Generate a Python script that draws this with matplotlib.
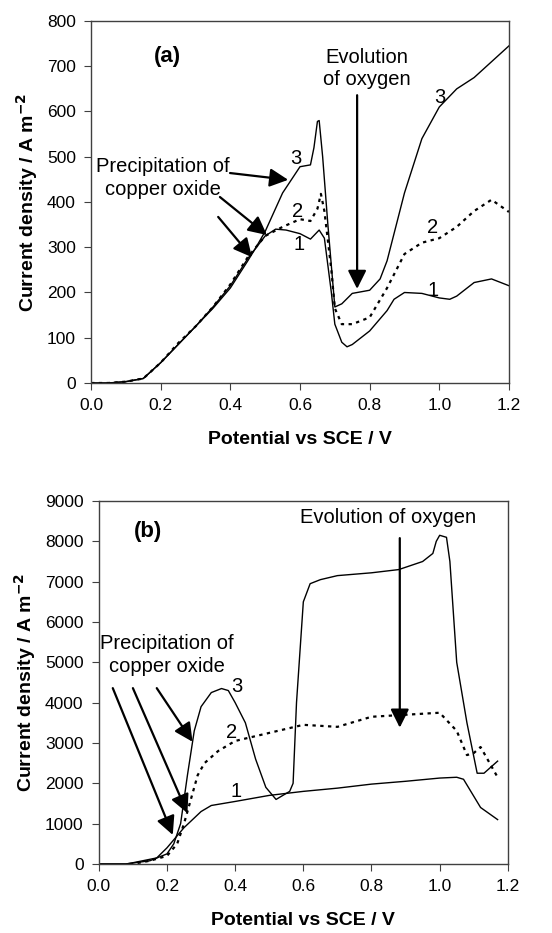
import matplotlib
matplotlib.use("Agg")
import matplotlib.pyplot as plt

plt.rcParams['font.family'] = ['Liberation Sans', 'DejaVu Sans']

# ---- panel (a) data ----
xa1 = [0.0, 0.05, 0.1, 0.15, 0.2, 0.25, 0.3, 0.35, 0.4, 0.45, 0.5, 0.53, 0.56, 0.6, 0.63, 0.655, 0.67,
       0.69, 0.7, 0.72, 0.735, 0.75, 0.8, 0.85, 0.87, 0.9, 0.95, 1.0, 1.03, 1.05, 1.1, 1.15, 1.2]
ya1 = [0, 0, 3, 10, 45, 85, 125, 168, 215, 275, 325, 340, 338, 330, 318, 338, 320,
       200, 130, 90, 80, 85, 115, 160, 185, 200, 198, 188, 185, 192, 222, 230, 215]

xa2 = [0.0, 0.05, 0.1, 0.15, 0.2, 0.25, 0.3, 0.35, 0.4, 0.45, 0.5, 0.55, 0.6, 0.63, 0.65, 0.66, 0.67,
       0.69, 0.7, 0.72, 0.75, 0.8, 0.85, 0.9, 0.95, 1.0, 1.05, 1.1, 1.15, 1.2]
ya2 = [0, 0, 3, 10, 45, 88, 125, 168, 218, 278, 325, 345, 362, 358, 385, 418, 380,
       250, 165, 130, 130, 145, 210, 285, 310, 320, 345, 380, 405, 378]

xa3 = [0.0, 0.05, 0.1, 0.15, 0.2, 0.25, 0.3, 0.35, 0.4, 0.45, 0.47, 0.5, 0.55, 0.6, 0.63, 0.64, 0.65,
       0.655, 0.665, 0.68, 0.7, 0.72, 0.75, 0.8, 0.83, 0.85, 0.9, 0.95, 1.0, 1.05, 1.1, 1.15, 1.2]
ya3 = [0, 0, 3, 10, 45, 85, 125, 165, 210, 270, 295, 335, 420, 478, 482, 520, 578,
       580, 500, 350, 168, 175, 198, 205, 230, 270, 420, 540, 610, 650, 675, 710, 745]

# ---- panel (b) data ----
xb1 = [0.0, 0.08, 0.1, 0.17, 0.2, 0.25, 0.3, 0.33, 0.4, 0.5, 0.6, 0.7, 0.8, 0.9, 1.0, 1.05, 1.07,
       1.12, 1.17]
yb1 = [0, 0, 30, 150, 400, 900, 1300, 1450, 1550, 1700, 1800, 1880, 1980, 2050, 2130, 2150, 2100,
       1400, 1100]

xb2 = [0.0, 0.08, 0.15, 0.2, 0.23, 0.25, 0.27, 0.29, 0.31, 0.35, 0.4, 0.5, 0.6, 0.7, 0.8, 0.9, 1.0,
       1.05, 1.08, 1.1, 1.12, 1.17]
yb2 = [-30, -30, 80, 200, 500, 1000, 1600, 2200, 2500, 2800, 3050, 3250, 3450, 3400, 3650, 3700, 3750,
       3300, 2700, 2750, 2900, 2150]

xb3 = [0.0, 0.08, 0.15, 0.2, 0.22, 0.24, 0.26, 0.28, 0.3, 0.33, 0.36, 0.38, 0.4, 0.43, 0.46, 0.49,
       0.52, 0.54, 0.56, 0.57, 0.58, 0.6, 0.62, 0.65, 0.7, 0.8, 0.88, 0.95, 0.98, 0.99, 1.0, 1.02,
       1.03, 1.05, 1.08, 1.11, 1.13, 1.17]
yb3 = [0, 0, 80, 250, 500, 1000, 2200, 3300, 3900, 4250, 4350, 4300, 4000, 3500, 2600, 1900,
       1600, 1700, 1800, 2000, 4000, 6500, 6950, 7050, 7150, 7220, 7300, 7500, 7700, 8000, 8150, 8100,
       7500, 5000, 3500, 2250, 2250, 2550]

xticks = [0.0, 0.2, 0.4, 0.6, 0.8, 1.0, 1.2]
xticklabels = ['0.0', '0.2', '0.4', '0.6', '0.8', '1.0', '1.2']

fig = plt.figure(figsize=(5.52, 9.33), dpi=100)
axa = fig.add_axes([0.165, 0.5895, 0.757, 0.388])
axb = fig.add_axes([0.179, 0.074, 0.741, 0.389])

arrow = dict(arrowstyle='-|>', mutation_scale=28, lw=1.6, color='black', shrinkA=0, shrinkB=0)
fs = 14.5

# (a)
axa.plot(xa1, ya1, color='black', lw=1)
axa.plot(xa2, ya2, color='black', lw=1.6, ls=(0, (1.5, 2)))
axa.plot(xa3, ya3, color='black', lw=1)
axa.set_xlim(0, 1.2)
axa.set_ylim(0, 800)
axa.set_yticks(range(0, 801, 100))
axa.text(0.22, 722, '(a)', fontsize=16, fontweight='bold', ha='center', va='center')
axa.text(0.589, 497, '3', fontsize=fs, ha='center', va='center')
axa.text(0.594, 380, '2', fontsize=fs, ha='center', va='center')
axa.text(0.597, 307, '1', fontsize=fs, ha='center', va='center')
axa.text(1.002, 632, '3', fontsize=fs, ha='center', va='center')
axa.text(0.98, 343, '2', fontsize=fs, ha='center', va='center')
axa.text(0.983, 205, '1', fontsize=fs, ha='center', va='center')
axa.text(0.205, 453, 'Precipitation of\ncopper oxide', fontsize=fs, ha='center', va='center',
         linespacing=1.25)
axa.annotate('', xy=(0.566, 449), xytext=(0.399, 464), arrowprops=arrow)
axa.annotate('', xy=(0.505, 327), xytext=(0.37, 411), arrowprops=arrow)
axa.annotate('', xy=(0.462, 278), xytext=(0.365, 367), arrowprops=arrow)
axa.text(0.793, 695, 'Evolution\nof oxygen', fontsize=fs, ha='center', va='center', linespacing=1.25)
axa.annotate('', xy=(0.764, 208), xytext=(0.764, 636), arrowprops=arrow)

# (b)
axb.plot(xb1, yb1, color='black', lw=1)
axb.plot(xb2, yb2, color='black', lw=1.6, ls=(0, (1.5, 2)))
axb.plot(xb3, yb3, color='black', lw=1)
axb.set_xlim(0, 1.2)
axb.set_ylim(0, 9000)
axb.set_yticks(range(0, 9001, 1000))
axb.text(0.144, 8232, '(b)', fontsize=16, fontweight='bold', ha='center', va='center')
axb.text(0.405, 4390, '3', fontsize=fs, ha='center', va='center')
axb.text(0.39, 3250, '2', fontsize=fs, ha='center', va='center')
axb.text(0.402, 1790, '1', fontsize=fs, ha='center', va='center')
axb.text(0.2, 5180, 'Precipitation of\ncopper oxide', fontsize=fs, ha='center', va='center',
         linespacing=1.25)
axb.annotate('', xy=(0.217, 720), xytext=(0.041, 4360), arrowprops=arrow)
axb.annotate('', xy=(0.26, 1260), xytext=(0.1, 4360), arrowprops=arrow)
axb.annotate('', xy=(0.275, 3030), xytext=(0.17, 4360), arrowprops=arrow)
axb.text(0.848, 8580, 'Evolution of oxygen', fontsize=fs, ha='center', va='center')
axb.annotate('', xy=(0.883, 3380), xytext=(0.883, 8080), arrowprops=arrow)

for ax in (axa, axb):
    ax.set_xticks(xticks)
    ax.set_xticklabels(xticklabels)
    ax.tick_params(direction='out', length=5, labelsize=12.5, color='#404040', pad=6)
    for s in ax.spines.values():
        s.set_color('#404040')
        s.set_linewidth(1)
    ax.set_xlabel('Potential vs SCE / V', fontsize=14, fontweight='bold', labelpad=13)
    ax.set_ylabel('Current density / A m$^{\\mathbf{-2}}$', fontsize=14, fontweight='bold', labelpad=5)

fig.savefig('out.png', dpi=100)
